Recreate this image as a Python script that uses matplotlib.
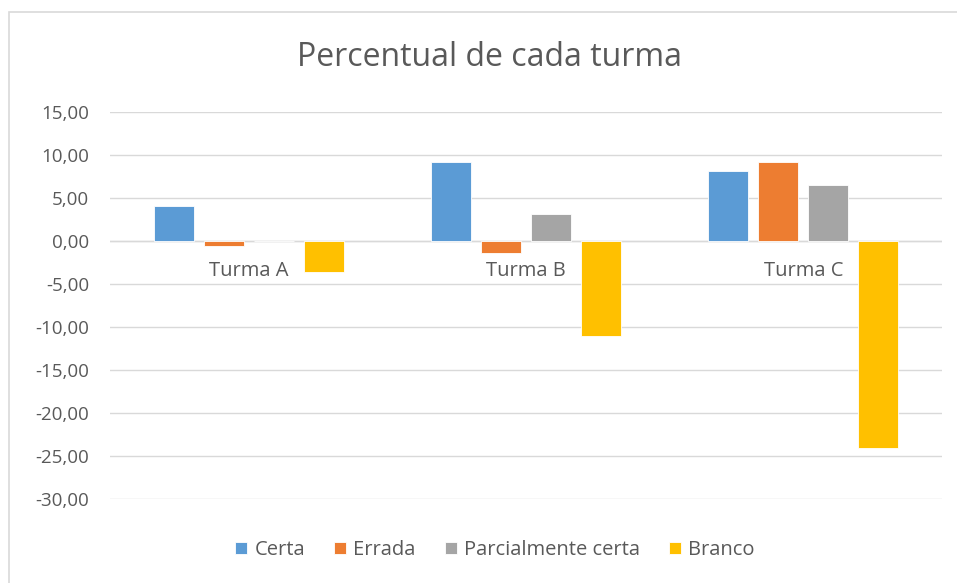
import numpy as np
import matplotlib.pyplot as plt
from matplotlib.patches import Rectangle
from matplotlib.ticker import FuncFormatter

plt.rcParams['font.family'] = ['Open Sans', 'DejaVu Sans']

turmas = ['Turma A', 'Turma B', 'Turma C']
series = ['Certa', 'Errada', 'Parcialmente certa', 'Branco']
certa = [4.0, 9.2, 8.1]
errada = [-0.6, -1.4, 9.2]
parcial = [0.0, 3.1, 6.5]
branco = [-3.6, -11.1, -24.1]
cores = ['#5B9BD5', '#ED7D31', '#A5A5A5', '#FFC000']

texto = '#595959'
grade = '#D9D9D9'

fig = plt.figure(figsize=(9.57, 5.83), dpi=100)
# moldura do gráfico
fig.patches.append(Rectangle((9 / 957, -0.01), 1.0, 1 - 12 / 583 + 0.01,
                             transform=fig.transFigure, fill=False,
                             edgecolor='#D9D9D9', linewidth=1.2))

ax = fig.add_axes([110 / 957, 1 - 498.7 / 583, 832 / 957, 387 / 583])

x = np.arange(len(turmas))
larg = 0.144
passo = 0.18
for i, (nome, vals) in enumerate(zip(series, [certa, errada, parcial, branco])):
    ax.bar(x + (i - 1.5) * passo, vals, larg, color=cores[i], label=nome,
           edgecolor='white', linewidth=0.6, zorder=3)

ax.set_xlim(-0.5, 2.5)
ax.set_ylim(-30, 15)
ax.set_yticks(np.arange(-30, 16, 5))
ax.yaxis.set_major_formatter(FuncFormatter(lambda v, p: f'{v:.2f}'.replace('.', ',')))
ax.grid(axis='y', color=grade, linewidth=1, zorder=0)
ax.tick_params(axis='y', length=0, pad=15, labelsize=13.5, labelcolor=texto)
ax.set_xticks([])
for s in ax.spines.values():
    s.set_visible(False)
ax.axhline(0, color=grade, linewidth=1, zorder=1)

# rótulos das turmas junto ao eixo zero
for xi, t in zip(x, turmas):
    ax.annotate(t, (xi, 0), xytext=(0, -22), textcoords='offset points',
                ha='center', va='center', fontsize=14.5, color=texto)

fig.text(490 / 957, 1 - 57 / 583, 'Percentual de cada turma', ha='center',
         va='center', fontsize=23, color=texto)

fig.legend(loc='center', bbox_to_anchor=(495 / 957, 1 - 550 / 583), ncol=4,
           frameon=False, fontsize=14.5, labelcolor=texto, handlelength=0.6,
           handleheight=0.6, handletextpad=0.35, columnspacing=1.45)

fig.savefig('out.png', dpi=100)
